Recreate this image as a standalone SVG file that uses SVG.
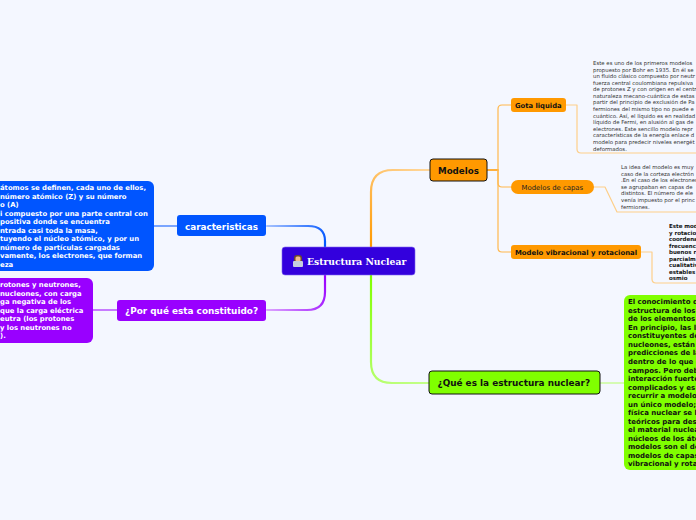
<svg xmlns="http://www.w3.org/2000/svg" width="696" height="520" viewBox="0 0 696 520">
<style>
text{font-family:"DejaVu Sans",sans-serif}
.b{font-weight:bold}
.c{fill:none;stroke-linecap:round;stroke-linejoin:round}
.t{stroke-width:2.2}.n{stroke-width:1.2}
.l{font-size:6.85px;font-weight:bold;fill:#fff}
.s{font-size:5.4px;fill:#333}
.v{font-size:5.5px;font-weight:bold;fill:#111}
.g{font-size:7px;font-weight:bold;fill:#111}
</style>
<defs>
<linearGradient id="go" gradientUnits="userSpaceOnUse" x1="371" y1="247" x2="425" y2="170"><stop offset="0" stop-color="#ff9900"/><stop offset="1" stop-color="#ffd699"/></linearGradient>
<linearGradient id="gg" gradientUnits="userSpaceOnUse" x1="371" y1="275" x2="429" y2="383"><stop offset="0" stop-color="#80ff00"/><stop offset="1" stop-color="#c4ff8a"/></linearGradient>
<linearGradient id="gb" gradientUnits="userSpaceOnUse" x1="325" y1="247" x2="266" y2="226"><stop offset="0" stop-color="#0055ff"/><stop offset="1" stop-color="#a9c4ff"/></linearGradient>
<linearGradient id="gp" gradientUnits="userSpaceOnUse" x1="325" y1="275" x2="266" y2="310"><stop offset="0" stop-color="#9900ff"/><stop offset="1" stop-color="#dda6ff"/></linearGradient>
</defs>
<rect width="696" height="520" fill="#f4f7ff"/>
<g id="connectors">
<path class="c t" stroke="url(#go)" d="M371 247V192Q371 170 393 170H429"/>
<path class="c t" stroke="url(#gg)" d="M371 275V362Q371 383 392 383H429"/>
<path class="c t" stroke="url(#gb)" d="M325 247V241Q325 226 308 226H267"/>
<path class="c t" stroke="url(#gp)" d="M325 275V292Q325 310 307 310H267"/>
<path class="c n" stroke="#0055ff" d="M154 226H177"/>
<path class="c n" stroke="#9900ff" d="M93 310H117"/>
<path class="c" stroke="#ff9900" stroke-width="1.6" d="M487 170H498"/>
<path class="c n" stroke="#ffb84d" d="M511 105H502Q498 105 498 109V183Q498 187 502 187H511"/>
<path class="c n" stroke="#ffb84d" d="M498 170V248Q498 252 502 252H511"/>
<path class="c n" stroke="#fdcf8a" d="M566 105H577V149Q577 153 581 153H696"/>
<path class="c n" stroke="#fdcf8a" d="M594 187H605L617 212H696"/>
<path class="c n" stroke="#fdcf8a" d="M641 252H652V279Q652 283 656 283H696"/>
<path class="c n" stroke="#b5ff6a" d="M600 383H624"/>
</g>
<g id="root">
<rect x="282" y="247" width="133" height="28" rx="3" fill="#3300dd" stroke="#7f66ee" stroke-width=".6"/>
<rect x="294" y="255" width="8" height="9" rx="3" fill="#6b4a2e"/>
<rect x="295.500" y="256.500" width="5" height="5" rx="1.500" fill="#f2bd90"/>
<rect x="293" y="261" width="10" height="6" rx="1" fill="#c6cede"/>
<text x="307" y="265" font-size="9.200" font-weight="bold" fill="#fff" style="font-family:'DejaVu Serif',serif">Estructura Nuclear</text>
</g>
<g id="modelos">
<rect x="430" y="159" width="57" height="22" rx="3" fill="#ff9900" stroke="#111" stroke-width="1"/>
<text class="b" x="438" y="173.500" font-size="8.700" fill="#111">Modelos</text>
</g>
<g id="gota">
<rect x="511" y="98" width="55" height="14" rx="3" fill="#ff9900"/>
<text class="b" x="515" y="108" font-size="6.800" fill="#111">Gota liquida</text>
</g>
<g id="gota-texto">
<text class="s" x="593" y="65">Este es uno de los primeros modelos</text>
<text class="s" x="593" y="71.600">propuesto por Bohr en 1935. En él se</text>
<text class="s" x="593" y="78">un fluido clásico compuesto por neutr</text>
<text class="s" x="593" y="84.600">fuerza central coulombiana repulsiva</text>
<text class="s" x="593" y="91.200">de protones Z y con origen en el centr</text>
<text class="s" x="593" y="97.800">naturaleza mecano-cuántica de estas</text>
<text class="s" x="593" y="104.400">partir del principio de exclusión de Pa</text>
<text class="s" x="593" y="111">fermiones del mismo tipo no puede e</text>
<text class="s" x="593" y="117.600">cuántico. Así, el líquido es en realidad</text>
<text class="s" x="593" y="124.200">líquido de Fermi, en alusión al gas de</text>
<text class="s" x="593" y="130.800">electrones. Este sencillo modelo repr</text>
<text class="s" x="593" y="137.400">características de la energía enlace d</text>
<text class="s" x="593" y="144">modelo para predecir niveles energét</text>
<text class="s" x="593" y="150.600">deformados.</text>
</g>
<g id="capas">
<rect x="511" y="180" width="83" height="14" rx="7" fill="#ff9900"/>
<text x="521.500" y="190" font-size="6.900" fill="#222">Modelos de capas</text>
</g>
<g id="capas-texto">
<text class="s" x="621" y="169">La idea del modelo es muy</text>
<text class="s" x="621" y="175.600">caso de la corteza electrón</text>
<text class="s" x="621" y="182.200">.En el caso de los electrones</text>
<text class="s" x="621" y="188.800">se agrupaban en capas de</text>
<text class="s" x="621" y="195.400">distintos. El número de ele</text>
<text class="s" x="621" y="202">venía impuesto por el princ</text>
<text class="s" x="621" y="208.600">fermiones.</text>
</g>
<g id="vibracional">
<rect x="511" y="245" width="130" height="14" rx="3" fill="#ff9900"/>
<text class="b" x="515" y="255" font-size="6.900" fill="#111">Modelo vibracional y rotacional</text>
</g>
<g id="vibracional-texto">
<text class="v" x="669" y="228">Este mod</text>
<text class="v" x="669" y="234.500">y rotacio</text>
<text class="v" x="669" y="241">coordena</text>
<text class="v" x="669" y="247.500">frecuenci</text>
<text class="v" x="669" y="254">buenos r</text>
<text class="v" x="669" y="260.500">parcialm</text>
<text class="v" x="669" y="267">cualitativ</text>
<text class="v" x="669" y="273.500">estables</text>
<text class="v" x="669" y="280">osmio</text>
</g>
<g id="que-es">
<rect x="429" y="371" width="171" height="23" rx="3" fill="#80ff00" stroke="#111" stroke-width="1"/>
<text class="b" x="437.500" y="386" font-size="8.900" fill="#111">¿Qué es la estructura nuclear?</text>
</g>
<g id="que-es-texto">
<rect x="624" y="295" width="90" height="175" rx="6" fill="#80ff00"/>
<text class="g" x="628" y="304">El conocimiento d</text>
<text class="g" x="628" y="312.600">estructura de los</text>
<text class="g" x="628" y="321.200">de los elementos</text>
<text class="g" x="628" y="329.800">En principio, las l</text>
<text class="g" x="628" y="338.400">constituyentes de</text>
<text class="g" x="628" y="347">nucleones, están</text>
<text class="g" x="628" y="355.400">predicciones de la</text>
<text class="g" x="628" y="364">dentro de lo que e</text>
<text class="g" x="628" y="372.500">campos. Pero deb</text>
<text class="g" x="628" y="381">interacción fuerte</text>
<text class="g" x="628" y="389.500">complicados y es</text>
<text class="g" x="628" y="398">recurrir a modelos</text>
<text class="g" x="628" y="406.500">un único modelo;</text>
<text class="g" x="628" y="415">física nuclear se h</text>
<text class="g" x="628" y="423.600">teóricos para des</text>
<text class="g" x="628" y="432">el material nuclea</text>
<text class="g" x="628" y="440.600">núcleos de los áto</text>
<text class="g" x="628" y="449">modelos son el de</text>
<text class="g" x="628" y="457.600">modelos de capas</text>
<text class="g" x="628" y="466">vibracional y rota</text>
</g>
<g id="caracteristicas">
<rect x="177" y="215" width="89" height="21" rx="3" fill="#0055ff"/>
<text class="b" x="185" y="229.500" font-size="8.800" fill="#fff">caracteristicas</text>
</g>
<g id="caracteristicas-texto">
<rect x="-20" y="181" width="174" height="90" rx="6" fill="#0055ff"/>
<text class="l" x="0" y="190">átomos se definen, cada uno de ellos,</text>
<text class="l" x="0" y="198.500">número atómico (Z) y su número</text>
<text class="l" x="0" y="207">o (A)</text>
<text class="l" x="0" y="215.500">i compuesto por una parte central con</text>
<text class="l" x="0" y="224">positiva donde se encuentra</text>
<text class="l" x="0" y="232.500">ntrada casi toda la masa,</text>
<text class="l" x="0" y="241">tuyendo el núcleo atómico, y por un</text>
<text class="l" x="0" y="249.500">número de partículas cargadas</text>
<text class="l" x="0" y="258">vamente, los electrones, que forman</text>
<text class="l" x="0" y="266.500">eza</text>
</g>
<g id="por-que">
<rect x="117" y="300" width="149" height="21" rx="3" fill="#9900ff"/>
<text class="b" x="125" y="314" font-size="8.900" fill="#fff">¿Por qué esta constituido?</text>
</g>
<g id="por-que-texto">
<rect x="-20" y="278" width="113" height="65" rx="6" fill="#9900ff"/>
<text class="l" x="0" y="287">rotones y neutrones,</text>
<text class="l" x="0" y="295.500">nucleones, con carga</text>
<text class="l" x="0" y="304">ga negativa de los</text>
<text class="l" x="0" y="312.500">que la carga eléctrica</text>
<text class="l" x="0" y="321">eutra (los protones</text>
<text class="l" x="0" y="329.500">y los neutrones no</text>
<text class="l" x="0" y="338">).</text>
</g>
</svg>
